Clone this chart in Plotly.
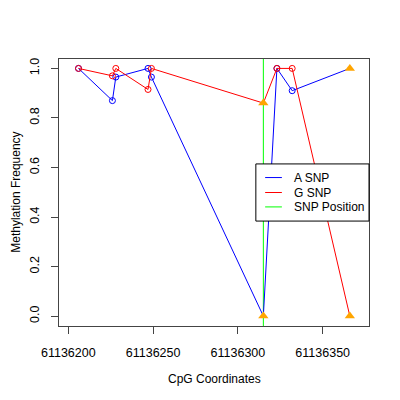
import plotly.graph_objects as go

# Data
a_x = [61136206, 61136226, 61136228, 61136247, 61136249, 61136315, 61136323, 61136332, 61136366]
a_y = [1.0, 0.87, 0.965, 1.0, 0.965, 0.0, 1.0, 0.91, 1.0]
g_x = [61136206, 61136226, 61136228, 61136247, 61136249, 61136315, 61136323, 61136332, 61136366]
g_y = [1.0, 0.97, 1.0, 0.915, 1.0, 0.86, 1.0, 1.0, 0.0]
snp_x = [61136315, 61136366]
snp_a_y = [0.0, 1.0]
snp_g_y = [0.86, 0.0]
snp_position = 61136315
x_ticks = [61136200, 61136250, 61136300, 61136350]
y_ticks = [0.0, 0.2, 0.4, 0.6, 0.8, 1.0]
legend_names = ["A SNP", "G SNP", "SNP Position"]

BLUE = "#0000FF"
RED = "#FF0000"
GREEN = "#00FF00"
ORANGE = "#FFA500"
FRAME = "#444444"
FONT = "Liberation Sans, Arial, Helvetica, sans-serif"
legend_colors = [BLUE, RED, GREEN]


def cpg_only(xs, ys):
    pts = [(x, y) for x, y in zip(xs, ys) if x not in snp_x]
    return [p[0] for p in pts], [p[1] for p in pts]


fig = go.Figure()

# SNP position vertical line
fig.add_trace(go.Scatter(x=[snp_position, snp_position], y=[-0.05, 1.05], mode="lines",
                         line=dict(color=GREEN, width=1), showlegend=False, hoverinfo="skip"))

for xs, ys, col, nm in [(a_x, a_y, BLUE, legend_names[0]), (g_x, g_y, RED, legend_names[1])]:
    fig.add_trace(go.Scatter(x=xs, y=ys, mode="lines", name=nm,
                             line=dict(color=col, width=1), showlegend=False))
    cx, cy = cpg_only(xs, ys)
    fig.add_trace(go.Scatter(x=cx, y=cy, mode="markers", name=nm,
                             marker=dict(symbol="circle-open", size=6, color=col,
                                         line=dict(width=1)),
                             showlegend=False))

fig.add_trace(go.Scatter(x=snp_x, y=snp_a_y, mode="markers",
                         marker=dict(symbol="triangle-up", size=9, color=ORANGE),
                         showlegend=False))
fig.add_trace(go.Scatter(x=snp_x, y=snp_g_y, mode="markers",
                         marker=dict(symbol="triangle-up", size=9, color=ORANGE),
                         showlegend=False))

# Manual legend (paper coordinates)
shapes = [dict(type="rect", xref="paper", yref="paper", x0=0.635, x1=1.0, y0=0.393, y1=0.607,
               line=dict(color="black", width=1), fillcolor="white", layer="above")]
annotations = []
row_y = [0.556, 0.500, 0.446]
for name, col, ry in zip(legend_names, legend_colors, row_y):
    shapes.append(dict(type="line", xref="paper", yref="paper", x0=0.665, x1=0.719, y0=ry, y1=ry,
                       line=dict(color=col, width=1), layer="above"))
    annotations.append(dict(text=name, xref="paper", yref="paper", x=0.752, y=ry,
                            xanchor="left", yanchor="middle", showarrow=False,
                            font=dict(size=12)))

annotations += [
    dict(text="CpG Coordinates", xref="paper", yref="paper", x=0.5, y=-0.198,
         xanchor="center", yanchor="middle", showarrow=False, font=dict(size=12)),
    dict(text="Methylation Frequency", xref="paper", yref="paper", x=-0.141, y=0.5,
         xanchor="center", yanchor="middle", showarrow=False, textangle=-90,
         font=dict(size=12)),
]

fig.update_layout(
    width=392, height=392,
    margin=dict(l=51, r=31, t=51, b=74),
    paper_bgcolor="white", plot_bgcolor="white",
    font=dict(family=FONT, size=12, color="black"),
    showlegend=False,
    xaxis=dict(range=[61136194.5, 61136377.3], tickvals=x_ticks,
               ticktext=[str(v) for v in x_ticks], tickfont=dict(size=12.5),
               showgrid=False, zeroline=False, showline=True, linecolor=FRAME,
               linewidth=1, mirror=True, ticks="outside", ticklen=7, tickcolor=FRAME,
               ticklabelstandoff=8),
    yaxis=dict(range=[-0.04, 1.038], tickvals=y_ticks,
               ticktext=["%.1f" % v for v in y_ticks], tickangle=-90, tickfont=dict(size=12.5),
               showgrid=False, zeroline=False, showline=True, linecolor=FRAME,
               linewidth=1, mirror=True, ticks="outside", ticklen=7, tickcolor=FRAME,
               ticklabelstandoff=7),
    shapes=shapes,
    annotations=annotations,
)

fig.write_html("out.html")
